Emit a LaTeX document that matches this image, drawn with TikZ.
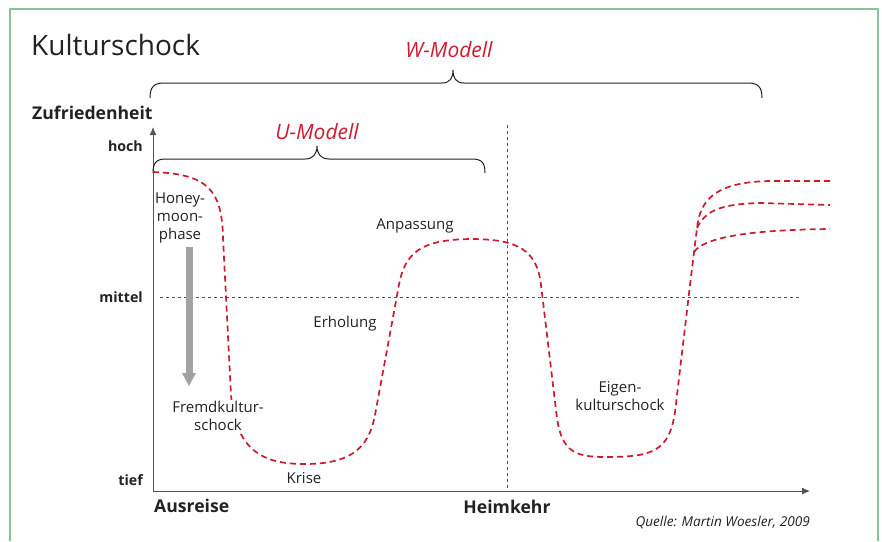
\documentclass[tikz,border=0pt]{standalone}
\usepackage{fontspec}
\setmainfont{Open Sans}
\definecolor{mred}{HTML}{CC1B2E}
\definecolor{txt}{HTML}{222222}
\definecolor{axis}{HTML}{555555}
\definecolor{frame}{HTML}{8CC09E}
\definecolor{bar}{HTML}{A0A2A4}
\tikzset{
  lbl/.style={font=\fontsize{15}{18}\selectfont, text=txt, align=center, inner sep=0pt},
  axlbl/.style={font=\bfseries\fontsize{14.2}{16}\selectfont, text=txt, anchor=east, inner sep=0pt},
  biglbl/.style={font=\bfseries\fontsize{17.6}{20}\selectfont, text=txt, inner sep=0pt},
  model/.style={font=\itshape\fontsize{21}{24}\selectfont, text=mred, inner sep=0pt},
  curve/.style={draw=mred, line width=1.7pt, dash pattern=on 6pt off 4pt},
  guide/.style={draw=axis, line width=0.8pt, dash pattern=on 3pt off 3pt},
  axisline/.style={draw=axis, line width=1pt, -{Latex[length=8pt,width=7pt]}},
  bracket/.style={draw=txt, line width=1pt},
}
\usetikzlibrary{arrows.meta}
\begin{document}
\begin{tikzpicture}[x=1pt,y=-1pt]
\useasboundingbox (0,0) rectangle (882,541);
% frame
\draw[frame, line width=1.5pt] (10,541) -- (10,9) -- (878,9) -- (878,541);
% title
\node[anchor=west, inner sep=0pt, text=txt, font=\fontsize{28}{32}\selectfont] (title) at (31,45) {Kulturschock};
% W-Modell
\node[model] (wlabel) at (449,50) {W-Modell};
\draw[bracket] (150,98) .. controls (150,87) and (154,83) .. (164,83) -- (442,83)
  .. controls (450,83) and (453,78) .. (453,70) .. controls (453,78) and (456,83) .. (464,83)
  -- (748,83) .. controls (758,83) and (762,87) .. (762,98);
\node[biglbl, anchor=west] (zuf) at (32,113) {Zufriedenheit};
% axes
\coordinate (origin) at (153,491);
\coordinate (ytip) at (153,127);
\coordinate (xtip) at (810,491);
\draw[axisline] (origin) -- (ytip);
\draw[axisline] (origin) -- (xtip);
% U-Modell
\node[model] (ulabel) at (317,132) {U-Modell};
\draw[bracket] (153,173) .. controls (153,163) and (156,159) .. (166,159) -- (305,159)
  .. controls (313,159) and (317,154) .. (317,146) .. controls (317,154) and (321,159) .. (329,159)
  -- (472,159) .. controls (482,159) and (485,163) .. (485,173);
% axis labels
\node[axlbl] (hoch) at (143,146) {hoch};
\node[axlbl] (mittel) at (143,297) {mittel};
\node[axlbl] (tief) at (143,480) {tief};
\node[biglbl, anchor=west] (aus) at (154,506) {Ausreise};
\node[biglbl] (heim) at (507,507) {Heimkehr};
\node[font=\itshape\fontsize{13.6}{15}\selectfont, text=txt, anchor=east, inner sep=0pt] (quelle) at (810,522) {Quelle: Martin Woesler, 2009};
% guides
\coordinate (m1) at (160,297); \coordinate (m2) at (800,297);
\draw[guide] (m1) -- (m2);
\coordinate (h1) at (507,125); \coordinate (h2) at (507,489);
\draw[guide] (h1) -- (h2);
% gray arrow
\fill[bar] (185.5,247) rectangle (192.5,373);
\fill[bar] (182,373) -- (196,373) -- (189,386) -- cycle;
% curve
\draw[curve] (153,172) .. controls (208,174) and (222,190) .. (223,238)
  -- (231,395)
  .. controls (236,455) and (268,464) .. (305,464)
  .. controls (352,464) and (369,447) .. (375,415)
  -- (398,290)
  .. controls (404,252) and (420,240) .. (470,239)
  .. controls (518,239) and (537,250) .. (541,285)
  -- (556,410)
  .. controls (560,450) and (572,457) .. (605,457)
  .. controls (652,457) and (669,452) .. (675,412)
  -- (690,285) -- (697,228)
  .. controls (700,200) and (715,182) .. (770,181) -- (830,181);
\draw[curve] (697,228) .. controls (705,211) and (720,204) .. (760,203) -- (830,205);
\draw[curve] (694,252) .. controls (703,239) and (740,230) .. (830,229);
% phase labels
\node[lbl] (honey) at (180,218) {Honey-\\moon-\\phase};
\node[lbl, fill=white, inner sep=1pt] (fremd) at (218,416) {Fremdkultur-\\schock};
\node[lbl] (krise) at (304,478) {Krise};
\node[lbl] (erh) at (345,324) {Erholung};
\node[lbl] (anp) at (415,226) {Anpassung};
\node[lbl] (eigen) at (620,396) {Eigen-\\kulturschock};
\end{tikzpicture}
\end{document}
